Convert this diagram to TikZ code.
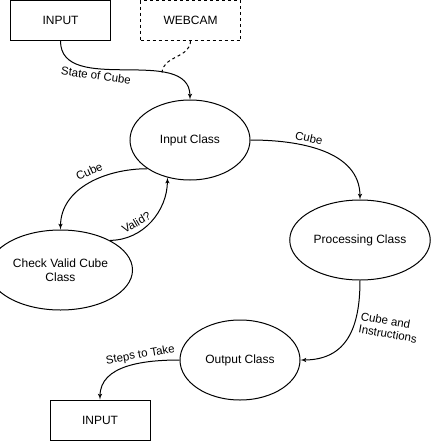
\documentclass[tikz,border=0pt]{standalone}
\usepackage{fontspec}
\setmainfont{Liberation Sans}
\usetikzlibrary{shapes,arrows}
\tikzstyle{block} = [draw, rectangle, minimum height=40pt, minimum width=100pt, font=\fontsize{12}{14}\selectfont]
\tikzstyle{camblock} = [block, dash pattern=on 3pt off 3pt]
\tikzstyle{cls} = [draw, ellipse, minimum width=120pt, minimum height=80pt, align=center, font=\fontsize{12}{14}\selectfont]
\tikzstyle{lbl} = [inner sep=2pt, align=left, font=\fontsize{11.5}{13}\selectfont]

\begin{document}
\begin{tikzpicture}[x=1pt, y=1pt, line width=1pt, node distance=130pt, >=latex']
    \useasboundingbox (0,0) rectangle (439,-442);
    % We start by placing the blocks
    \node [block] (in1) at (60.5,-20.5) {INPUT};
    \node [camblock, right of=in1] (cam) {WEBCAM};
    \node [cls] (ic) at (190,-140) {Input Class};
    \node [cls] (chk) at (60.5,-270) {Check Valid Cube\\Class};
    \node [cls] (pc) at (360,-240) {Processing Class};
    \node [cls] (oc) at (240,-360) {Output Class};
    \node [block] (in2) at (100,-420) {INPUT};

    % Then the connections between them
    \draw [->] (in1.south) to[out=-90, in=90]
        node [lbl, pos=0.35, anchor=north, rotate=-8] (lstate) {State of Cube}
        coordinate [pos=0.7] (jn) (ic.north);
    \draw [dash pattern=on 3pt off 3pt] (cam.south) to[out=-90, in=90] (jn);
    \draw [->] (ic.east) to[out=0, in=90]
        node [lbl, pos=0.38, anchor=south, rotate=-12, outer sep=2pt] (lcube1) {Cube} (pc.north);
    \draw [->] (ic.214) to[out=180, in=90]
        node [lbl, pos=0.45, anchor=south, rotate=25, outer sep=4pt] (lcube2) {Cube} (chk.north);
    \draw [->] (chk.31) to[out=0, in=-90]
        node [lbl, pos=0.35, anchor=south, rotate=30, outer sep=3pt] (lvalid) {Valid?} (ic.239);
    \draw [->] (pc.south) to[out=-90, in=0, looseness=1.2]
        node [lbl, pos=0.33, anchor=west, rotate=-10, outer sep=3pt] (linstr) {Cube and\\Instructions} (oc.east);
    \draw [->] (oc.west) to[out=180, in=90]
        node [lbl, pos=0.35, anchor=south, rotate=10] (lsteps) {Steps to Take} (in2.north);
\end{tikzpicture}
\end{document}
